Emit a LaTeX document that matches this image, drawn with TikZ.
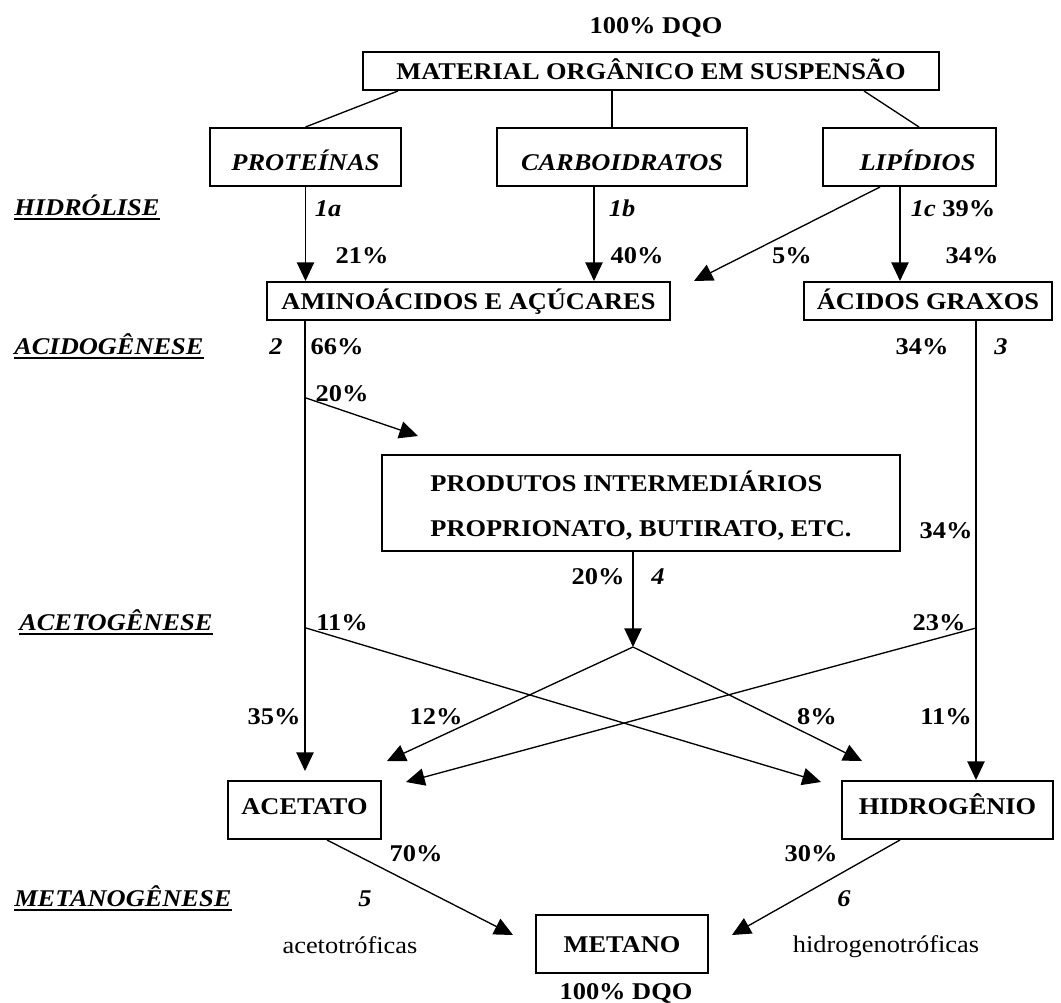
\documentclass[tikz,border=0pt]{standalone}
\usepackage{fontspec}
\setmainfont{Liberation Serif}[FakeStretch=1.1]
\usetikzlibrary{arrows.meta,calc}
\begin{document}
\begin{tikzpicture}[x=0.75pt,y=-0.75pt]
    \tikzstyle{box}=[draw, line width=1.5pt, inner sep=0pt, text height=14pt, text depth=2pt, font=\fontsize{18}{21}\selectfont\bfseries]
    \tikzstyle{boxit}=[box, text height=19.5pt, text depth=0pt, font=\fontsize{18}{21}\selectfont\bfseries\itshape]
    \tikzstyle{boxlow}=[box, text height=10pt, text depth=4pt]
    \tikzstyle{lbl}=[anchor=base, inner sep=0pt, font=\fontsize{18}{21}\selectfont\bfseries]
    \tikzstyle{num}=[lbl, font=\fontsize{18}{21}\selectfont\bfseries\itshape]
    \tikzstyle{etapa}=[lbl, anchor=base west, font=\fontsize{18}{21}\selectfont\bfseries\itshape]
    \tikzstyle{bact}=[lbl, font=\fontsize{18}{21}\selectfont]
    \tikzstyle{sub}=[line width=2.2pt]
    \tikzstyle{linha}=[line width=1pt]
    \tikzstyle{seta}=[line width=1pt, -{Triangle[length=14pt,width=13pt]}]
    \useasboundingbox (0,0) rectangle (1061,1003);
    % caixas
    \node [box, minimum width=432pt, minimum height=28.5pt] (mat) at (651,71) {MATERIAL ORGÂNICO EM SUSPENSÃO};
    \node [boxit, minimum width=143.25pt, minimum height=43.5pt] (prot) at (305.5,157) {PROTEÍNAS};
    \node [boxit, minimum width=187.5pt, minimum height=43.5pt] (carb) at (622,157) {CARBOIDRATOS};
    \node [boxit, minimum width=129.75pt, minimum height=43.5pt] (lip) at (909.5,157) {\hspace*{12pt}LIPÍDIOS};
    \node [box, minimum width=302.25pt, minimum height=28.5pt] (amino) at (468.5,301) {AMINOÁCIDOS E AÇÚCARES};
    \node [box, minimum width=186pt, minimum height=28.5pt] (graxos) at (928,301) {ÁCIDOS GRAXOS};
    \node [draw, line width=1.5pt, inner sep=0pt, minimum width=388.5pt, minimum height=72pt, align=left, font=\fontsize{18}{33.75}\selectfont\bfseries] (prod) at (641,503) {\rule{0pt}{20pt}PRODUTOS INTERMEDIÁRIOS\\PROPRIONATO, BUTIRATO, ETC.};
    \node [boxlow, minimum width=114.75pt, minimum height=43.5pt] (acetato) at (304.5,810) {ACETATO};
    \node [boxlow, minimum width=158.25pt, minimum height=43.5pt] (hidrog) at (947.5,810) {HIDROGÊNIO};
    \node [box, minimum width=129pt, minimum height=43.5pt] (metano) at (622,944) {METANO};
    % etapas
    \node [etapa] (hid) at (14,215) {HIDRÓLISE};
    \node [etapa] (acid) at (14,354) {ACIDOGÊNESE};
    \node [etapa] (acet) at (19,630) {ACETOGÊNESE};
    \node [etapa] (met) at (14,906) {METANOGÊNESE};
    \foreach \e in {hid, acid, acet, met}
        \draw [sub] ([yshift=-3pt]\e.base west) -- ([yshift=-3pt]\e.base east);
    % ligacoes
    \draw [linha] ($(mat.south west)+(36,0)$) -- (prot.north);
    \draw [linha] ($(mat.south)+(-39,0)$) -- ($(carb.north)+(-10,0)$);
    \draw [linha] ($(mat.south east)+(-76,0)$) -- ($(lip.north)+(9.5,0)$);
    \draw [seta] (prot.south) -- (prot.south |- amino.north);
    \coordinate (c1b) at ($(carb.south)+(-28,0)$);
    \draw [seta] (c1b) -- (c1b |- amino.north);
    \draw [seta] ($(lip.south west)+(58,0)$) -- ($(amino.north east)+(23,0)$);
    \coordinate (c1c) at ($(lip.south)+(-9.5,0)$);
    \draw [seta] (c1c) -- (c1c |- graxos.north);
    \coordinate (c2) at ($(amino.south west)+(39,0)$);
    \draw [seta, shorten >=6.75pt] (c2) -- (c2 |- acetato.north);
    \coordinate (b20) at (306,398);
    \draw [seta] (b20) -- ($(prod.north west)+(37,-18)$);
    \coordinate (c3) at ($(graxos.south)+(48,0)$);
    \draw [seta] (c3) -- (c3 |- hidrog.north);
    \coordinate (cent) at (633,647);
    \draw [seta] ($(prod.south)+(-8,0)$) -- (cent);
    \draw [seta] (cent) -- ($(acetato.north east)+(5,-19)$);
    \draw [seta] (cent) -- ($(hidrog.north west)+(21,-19)$);
    \coordinate (b11) at (306,628);
    \coordinate (b23) at (976,628);
    \draw [seta] (b11) -- ($(hidrog.north west)+(-20,2)$);
    \draw [seta] (b23) -- ($(acetato.north east)+(24,2)$);
    \draw [seta] ($(acetato.south)+(22.5,0)$) -- ($(metano.west)+(-22,-9)$);
    \draw [seta] ($(hidrog.south)+(-47.5,0)$) -- ($(metano.east)+(23,-9)$);
    % rotulos
    \node [lbl] (dqo1) at (656,33) {100\% DQO};
    \node [num] (n1a) at (328,216) {1a};
    \node [lbl] (p21) at (362,263) {21\%};
    \node [num] (n1b) at (622,216) {1b};
    \node [lbl] (p40) at (637,263) {40\%};
    \node [lbl] (p5) at (792,263) {5\%};
    \node [lbl] (n1c) at (953,216) {\itshape 1c\upshape{} 39\%};
    \node [lbl] (p34a) at (972,263) {34\%};
    \node [num] (n2) at (276,354) {2};
    \node [lbl] (p66) at (337,354) {66\%};
    \node [lbl] (p34b) at (922,354) {34\%};
    \node [num] (n3) at (1001,354) {3};
    \node [lbl] (p20a) at (342,401) {20\%};
    \node [lbl] (p34c) at (946,538) {34\%};
    \node [lbl] (p20b) at (598,584) {20\%};
    \node [num] (n4) at (658,584) {4};
    \node [lbl] (p11a) at (342,630) {11\%};
    \node [lbl] (p23) at (939,630) {23\%};
    \node [lbl] (p35) at (274,724) {35\%};
    \node [lbl] (p12) at (436,724) {12\%};
    \node [lbl] (p8) at (817,724) {8\%};
    \node [lbl] (p11b) at (946,724) {11\%};
    \node [lbl] (p70) at (416,861) {70\%};
    \node [lbl] (p30) at (811,861) {30\%};
    \node [num] (n5) at (365,906) {5};
    \node [num] (n6) at (844,906) {6};
    \node [bact] (acetotr) at (350,953) {acetotróficas};
    \node [bact] (hidrotr) at (886,952) {hidrogenotróficas};
    \node [lbl] (dqo2) at (626,999) {100\% DQO};
\end{tikzpicture}
\end{document}
